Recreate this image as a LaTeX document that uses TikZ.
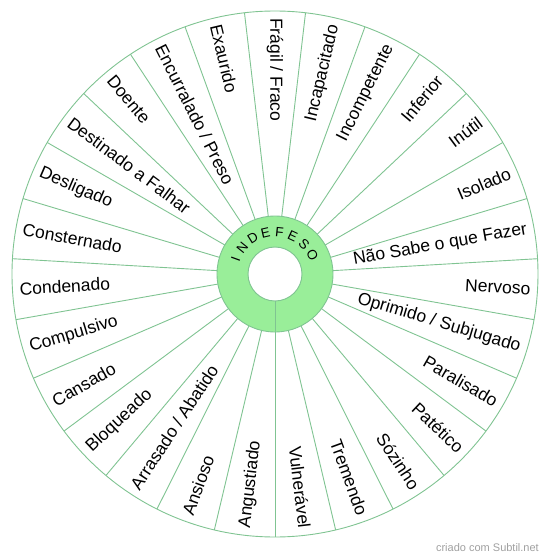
\documentclass[tikz,border=0pt]{standalone}
\usepackage{fontspec}
\setmainfont{Liberation Sans}
\usetikzlibrary{positioning}
\definecolor{spokegreen}{RGB}{128,196,146}
\definecolor{ringgreen}{RGB}{153,238,153}
\definecolor{creditgray}{RGB}{160,160,160}

\begin{document}
\begin{tikzpicture}[x=1pt, y=1pt]
		% Define styles
		\tikzstyle{spoke} = [draw=spokegreen, line width=0.9pt]
		\tikzstyle{ring} = [draw=spokegreen, fill=ringgreen, line width=0.9pt]
		\tikzstyle{lbl} = [inner sep=0pt, font=\fontsize{17.5}{20}\selectfont]
		\tikzstyle{ringletter} = [inner sep=0pt, font=\fontsize{13.5}{15}\selectfont]
		\tikzstyle{credit} = [inner sep=0pt, text=creditgray, font=\fontsize{11}{13}\selectfont]

		\useasboundingbox (-275pt,-286pt) rectangle (275pt,274pt);

		% Outer wheel
		\draw [spoke, fill=white] (0pt,0pt) circle (263pt);

		% Spokes between the 27 sectors
		\foreach \k in {0,...,26}
			\draw [spoke] (270+\k*13.3333:58pt) -- (270+\k*13.3333:263pt);

		% Green ring in the middle
		\path [ring, even odd rule] (0pt,0pt) circle (58pt) (0pt,0pt) circle (27pt);
		\draw [spoke] (270:27pt) -- (270:58pt);

		% Right half: text reads outwards
		\foreach \txt [count=\i from 0] in {Vulnerável, Tremendo, Sózinho, Patético, Paralisado, Oprimido / Subjugado, Nervoso, Não Sabe o que Fazer, Isolado, Inútil, Inferior, Incompetente, Incapacitado}
			\node [lbl, anchor=east, rotate={-83.3333+\i*13.3333}] (right\i) at (-83.3333+\i*13.3333:256pt) {\txt};

		% Left half: text reads inwards
		\foreach \txt [count=\i from 0] in {Frágil / Fraco, Exaurido, Encurralado / Preso, Doente, Destinado a Falhar, Desligado, Consternado, Condenado, Compulsivo, Cansado, Bloqueado, Arrasado / Abatido, Ansioso, Angustiado}
			\node [lbl, anchor=west, rotate={-90+\i*13.3333}] (left\i) at (90+\i*13.3333:256pt) {\txt};

		% Title letters along the ring
		\foreach \ch [count=\j from 0] in {I,N,D,E,F,E,S,O}
			\node [ringletter, rotate={70-\j*19}] (letter\j) at (160-\j*19:42pt) {\ch};

		% Credit
		\node [credit, anchor=south east] (credit) at (264pt,-278pt) {criado com Subtil.net};

	\end{tikzpicture}
\end{document}
